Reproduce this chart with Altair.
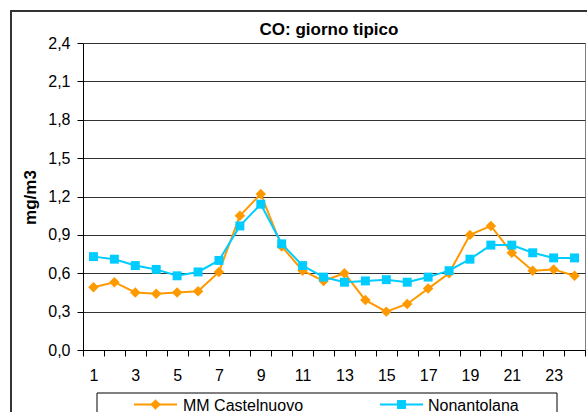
import altair as alt
import pandas as pd

# ---- data ----
hours = list(range(1, 25))
castelnuovo = [0.49, 0.53, 0.45, 0.44, 0.45, 0.46, 0.61, 1.05, 1.22, 0.81, 0.62, 0.54,
               0.60, 0.39, 0.30, 0.36, 0.48, 0.60, 0.90, 0.97, 0.76, 0.62, 0.63, 0.58]
nonantolana = [0.73, 0.71, 0.66, 0.63, 0.58, 0.61, 0.70, 0.97, 1.14, 0.83, 0.66, 0.57,
               0.53, 0.54, 0.55, 0.53, 0.57, 0.62, 0.71, 0.82, 0.82, 0.76, 0.72, 0.72]
series_names = ["MM Castelnuovo", "Nonantolana"]
series_values = [castelnuovo, nonantolana]
series_colors = ["#FF9900", "#00CCFF"]
series_shapes = ["diamond", "square"]
y_ticks = [0.0, 0.3, 0.6, 0.9, 1.2, 1.5, 1.8, 2.1, 2.4]
x_tick_positions = [h - 0.5 for h in hours] + [24.5]
title_text = "CO: giorno tipico"
y_title = "mg/m3"

FONT = "Liberation Sans"
W, H = 502, 307

x_enc = alt.X(
    "ora:Q",
    scale=alt.Scale(domain=[0.5, 24.5], nice=False, zero=False),
    axis=alt.Axis(
        values=x_tick_positions,
        labelExpr="((datum.value + 0.5) % 2 == 1 && datum.value < 24) ? format(datum.value + 0.5, 'd') : ''",
        labelOffset=W / 48,
        labelFlush=False,
        labelOverlap=False,
        tickSize=6,
        tickColor="#000000",
        domainColor="#000000",
        grid=False,
        labelFontSize=16,
        labelPadding=11,
        labelColor="#000000",
        title=None,
    ),
)
y_enc = alt.Y(
    "valore:Q",
    scale=alt.Scale(domain=[0, 2.4], nice=False),
    axis=alt.Axis(
        values=y_ticks,
        labelExpr="replace(format(datum.value, '.1f'), '.', ',')",
        grid=True,
        gridColor="#333333",
        gridWidth=1,
        tickSize=6,
        tickColor="#000000",
        domainColor="#000000",
        labelFontSize=16,
        labelPadding=7,
        labelColor="#000000",
        title=y_title,
        titleFontSize=17,
        titleFontWeight="bold",
        titleColor="#000000",
        titleAngle=-90,
        titleAlign="center",
        titleBaseline="middle",
        titleX=-53,
        titleY=154,
    ),
)

layers = []
for name, vals, col, shp in zip(series_names, series_values, series_colors, series_shapes):
    df = pd.DataFrame({"ora": hours, "valore": vals, "serie": name})
    base = alt.Chart(df).encode(x=x_enc, y=y_enc)
    layers.append(base.mark_line(color=col, strokeWidth=2))
    layers.append(base.mark_point(shape=shp, filled=True, opacity=1, color=col,
                                  size=110 if shp == "diamond" else 80))

# outer chart border (filled thin rects)
border_df = pd.DataFrame({"k": [0]})
bc = alt.Chart(border_df)
layers.append(bc.mark_rect(fill="#333333", stroke=None).encode(
    x=alt.value(-73), x2=alt.value(520), y=alt.value(-33), y2=alt.value(-31)))
layers.append(bc.mark_rect(fill="#333333", stroke=None).encode(
    x=alt.value(-73), x2=alt.value(-71), y=alt.value(-33), y2=alt.value(380)))

# chart title as text
title_df = pd.DataFrame({"t": [title_text]})
layers.append(alt.Chart(title_df).mark_text(
    align="center", baseline="alphabetic", fontSize=17, fontWeight="bold",
    font=FONT, color="#000000").encode(x=alt.value(246), y=alt.value(-8), text="t:N"))

# legend box
layers.append(
    bc.mark_rect(fill="white", stroke="#000000", strokeWidth=1).encode(
        x=alt.value(14), x2=alt.value(474), y=alt.value(350), y2=alt.value(385)
    )
)
leg_x = [(51, 94, 72.5, 100), (297, 340, 318.5, 345)]
for name, col, shp, (x1, x2, xm, xt) in zip(series_names, series_colors, series_shapes, leg_x):
    ldf = pd.DataFrame({"serie": [name]})
    lb = alt.Chart(ldf)
    layers.append(lb.mark_rule(color=col, strokeWidth=2).encode(
        x=alt.value(x1), x2=alt.value(x2), y=alt.value(361.5)))
    layers.append(lb.mark_point(shape=shp, filled=True, opacity=1, color=col,
                                size=110 if shp == "diamond" else 80).encode(
        x=alt.value(xm), y=alt.value(361.5)))
    layers.append(lb.mark_text(align="left", baseline="alphabetic", fontSize=16,
                               font=FONT, color="#000000").encode(
        x=alt.value(xt), y=alt.value(368), text="serie:N"))

chart = alt.layer(*layers).properties(
    width=W,
    height=H,
    padding={"left": 83, "top": 43, "right": 2, "bottom": 62},
    autosize="none",
    background="white",
).configure_view(stroke="#808080", strokeWidth=1).configure_axis(
    labelFont=FONT, titleFont=FONT
)

chart.save("out.html", embed_options={"renderer": "svg", "actions": False})
